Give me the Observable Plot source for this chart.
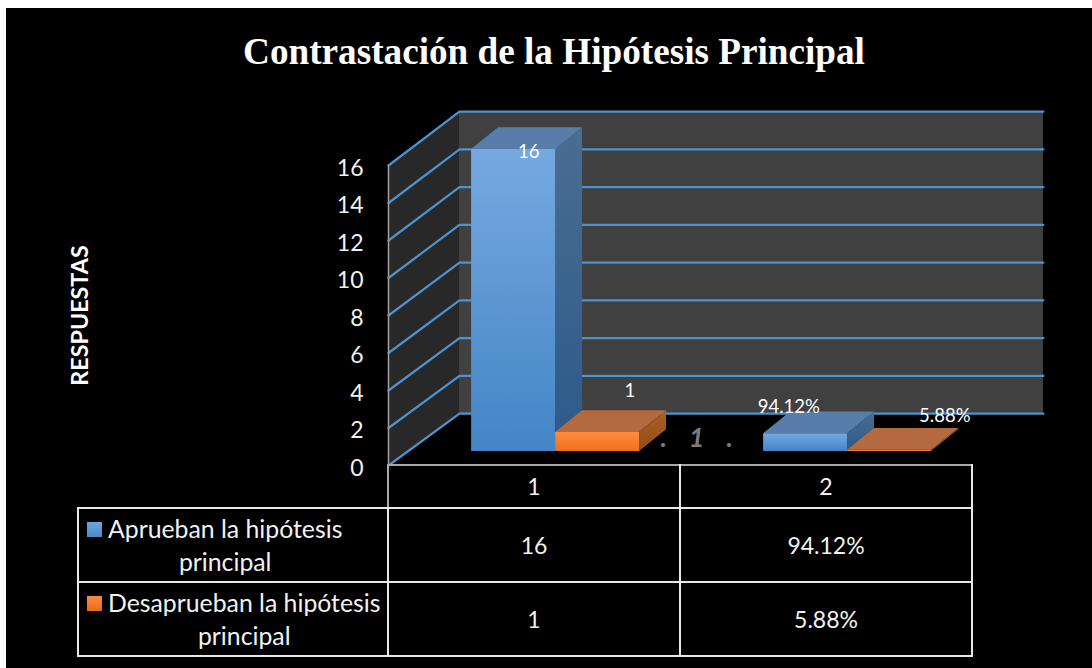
<!DOCTYPE html>
<html><head><meta charset="utf-8">
<script src="https://cdn.jsdelivr.net/npm/d3@7"></script>
<script src="https://cdn.jsdelivr.net/npm/@observablehq/plot@0.6"></script>
<style>
html,body{margin:0;padding:0;background:#fff;overflow:hidden}
#chart{position:absolute;left:6px;top:8px;width:1086px;height:660px;background:#000;color:#fff;font-family:Lato,sans-serif}
#title{position:absolute;left:0;top:22px;width:1096px;text-align:center;font:bold 37.2px "Liberation Serif",serif;color:#fff;margin:0}
#plot{position:absolute;left:0;top:92px}
#plot svg{background:transparent;display:block;overflow:visible}
.ghost text{letter-spacing:22px}
table{position:absolute;left:71px;top:456px;width:894px;height:191px;border-collapse:collapse;table-layout:fixed;font-size:23px;color:#f2f2f2}
td{border:2px solid #e8e8e8;text-align:center;padding:0;line-height:33px;position:relative}
td.blank{border:none;border-bottom:2px solid #e8e8e8;border-right:2px solid #aaa}
tr.head td{height:41px;border-top-color:#a8a8a8}
tr.head td.blank{border-top:none}
tr.row td{height:72px}
td.name{text-align:left;padding-left:29px;font-size:24.8px;white-space:nowrap}
td.name .txt{display:inline-block;text-align:center}
.sw{position:absolute;left:8px;top:13px;width:15px;height:15px}
</style></head><body>
<div id="chart">
  <h1 id="title"></h1>
  <div id="plot"></div>
  <table id="tbl"></table>
</div>
<script>
const titleText = "Contrastación de la Hipótesis Principal";
const axisTitle = "RESPUESTAS";
const categories = ["1", "2"];
const aprueban = [16, 0.9412];
const desaprueban = [1, 0.0588];
const aprLabels = ["16", "94.12%"];
const desLabels = ["1", "5.88%"];
const seriesNames = [["Aprueban la hipótesis", "principal"], ["Desaprueban la hipótesis", "principal"]];
const yTicks = [0, 2, 4, 6, 8, 10, 12, 14, 16];

// Oblique projection: depth 0 = front of floor, depth 1 = back wall
const DX = 0.243, DY = 2.77;
const BAR_W = 0.2877, BAR_PAD = 0.219;
const D0 = 0.27, D1X = 0.65, D1Y = 0.69;
const W = 1086, H = 374, PY = 100;
const px = (c, d) => c + d * DX;
const py = (v, d) => v * (d > 0 ? 1.0067 : 1) + d * DY;

const palette = [
  {front: "url(#gBlue)", side: "url(#gBlueSide)", top: "#587dab"},
  {front: "url(#gOrange)", side: "url(#gOrangeSide)", top: "#b46a3e"}
];

function barMarks(cat, idx, value) {
  const c0 = cat + BAR_PAD + idx * BAR_W, c1 = c0 + BAR_W, col = palette[idx];
  const frontPts = [{x: px(c0, D0), y1: py(0, D0), y2: py(value, D0)},
                    {x: px(c1, D0), y1: py(0, D0), y2: py(value, D0)}];
  const sidePts = [{x: px(c1, D0), y1: py(0, D0), y2: py(value, D0)},
                   {x: px(c1, D1X), y1: py(0, D1Y), y2: py(value, D1Y)}];
  const topPts = [{y: py(value, D0), x1: px(c0, D0), x2: px(c1, D0)},
                  {y: py(value, D1Y), x1: px(c0, D1X), x2: px(c1, D1X)}];
  return [
    Plot.areaY(sidePts, {x: "x", y1: "y1", y2: "y2", fill: col.side}),
    Plot.areaX(topPts, {y: "y", x1: "x1", x2: "x2", fill: col.top}),
    Plot.areaY(frontPts, {x: "x", y1: "y1", y2: "y2", fill: col.front})
  ];
}

const gradients = () => {
  const defs = d3.create("svg:defs");
  const grad = (id, a, b) => {
    const g = defs.append("linearGradient").attr("id", id).attr("x1", 0).attr("y1", 0).attr("x2", 0).attr("y2", 1);
    g.append("stop").attr("offset", "0%").attr("stop-color", a);
    g.append("stop").attr("offset", "100%").attr("stop-color", b);
  };
  grad("gBlue", "#76a9e0", "#4485c6");
  grad("gBlueSide", "#4a6d92", "#2c5a8a");
  grad("gOrange", "#ff8c3e", "#ec6f1c");
  grad("gOrangeSide", "#a95f28", "#944d18");
  return defs.node();
};

const gridLine = v => Plot.line([
  {x: px(0, 0), y: py(v, 0)}, {x: px(0, 1), y: py(v, 1)}, {x: px(2, 1), y: py(v, 1)}
], {x: "x", y: "y", stroke: "#4d93d1", strokeWidth: 2.2, curve: "linear"});

const chart = Plot.plot({
  width: W, height: H,
  marginLeft: 382, marginRight: 120, marginTop: 165 - PY, marginBottom: PY + H - 465,
  x: {domain: [0, 2], axis: null},
  y: {domain: [0, 16], axis: null},
  style: {background: "transparent", color: "#fff", fontFamily: "Lato, sans-serif"},
  marks: [
    gradients,
    // side wall
    Plot.areaY([{x: px(0, 0), y1: py(0, 0), y2: py(16, 0)}, {x: px(0, 1), y1: py(0, 1), y2: py(16, 1)}],
      {x: "x", y1: "y1", y2: "y2", fill: "#282828"}),
    // back wall
    Plot.areaY([{x: px(0, 1), y1: py(0, 1), y2: py(16, 1)}, {x: px(2, 1), y1: py(0, 1), y2: py(16, 1)}],
      {x: "x", y1: "y1", y2: "y2", fill: "#404040"}),
    ...yTicks.map(gridLine),
    Plot.ruleX([0], {y1: 0, y2: 16, stroke: "#a0a0a0", strokeWidth: 1.5}),
    Plot.text([".1."], {x: () => px(1.02, 0.3), y: () => py(0.61, 0.3), fill: "#7c7c7c",
      fontSize: 27, fontWeight: "bold", fontStyle: "italic", className: "ghost"}),
    ...barMarks(0, 0, aprueban[0]),
    ...barMarks(0, 1, desaprueban[0]),
    ...barMarks(1, 0, aprueban[1]),
    ...barMarks(1, 1, desaprueban[1]),
    Plot.text([aprLabels[0]], {x: () => px(BAR_PAD + BAR_W / 2, .47), y: () => py(aprueban[0], .47), dx: 1, dy: 13, fill: "#fff", fontSize: 18.5}),
    Plot.text([desLabels[0]], {x: () => px(BAR_PAD + 1.5 * BAR_W, .47), y: () => py(desaprueban[0], .47), dx: 18, dy: -31, fill: "#fff", fontSize: 18.5}),
    Plot.text([aprLabels[1]], {x: () => px(1 + BAR_PAD + BAR_W / 2, .47), y: () => py(aprueban[1], .47), dx: -31, dy: -16, fill: "#fff", fontSize: 18.5}),
    Plot.text([desLabels[1]], {x: () => px(1 + BAR_PAD + 1.5 * BAR_W, .47), y: () => py(desaprueban[1], .47), dx: 41, dy: -24, fill: "#fff", fontSize: 18.5}),
    Plot.axisY({ticks: yTicks, tickSize: 0, tickPadding: 25, fontSize: 23, label: null, dy: 3, tickFormat: d3.format("d"), fill: "#f2f2f2"}),
    Plot.text([axisTitle], {x: () => -1.055, y: () => 8, rotate: -90, fontSize: 23.3, fontWeight: "bold", fill: "#fff"})
  ]
});
document.getElementById("plot").appendChild(chart);
document.getElementById("title").textContent = titleText;

// data table below the plot
const rows = [
  {name: seriesNames[0], swatch: "linear-gradient(#6ea4dc,#4a8bca)", cells: aprLabels},
  {name: seriesNames[1], swatch: "linear-gradient(#fb8b42,#e96c1c)", cells: desLabels}
];
const tbl = d3.select("#tbl");
const cg = tbl.append("colgroup");
[310, 292, 292].forEach(w => cg.append("col").attr("width", w));
const head = tbl.append("tr").attr("class", "head");
head.append("td").attr("class", "blank");
categories.forEach(c => head.append("td").text(c));
rows.forEach(r => {
  const tr = tbl.append("tr").attr("class", "row");
  const first = tr.append("td").attr("class", "name");
  first.append("span").attr("class", "sw").style("background", r.swatch);
  const txt = first.append("span").attr("class", "txt");
  txt.append("span").text(r.name[0]);
  txt.append("br");
  txt.append("span").text(r.name[1]);
  r.cells.forEach(c => tr.append("td").text(c));
});
</script>
</body></html>
